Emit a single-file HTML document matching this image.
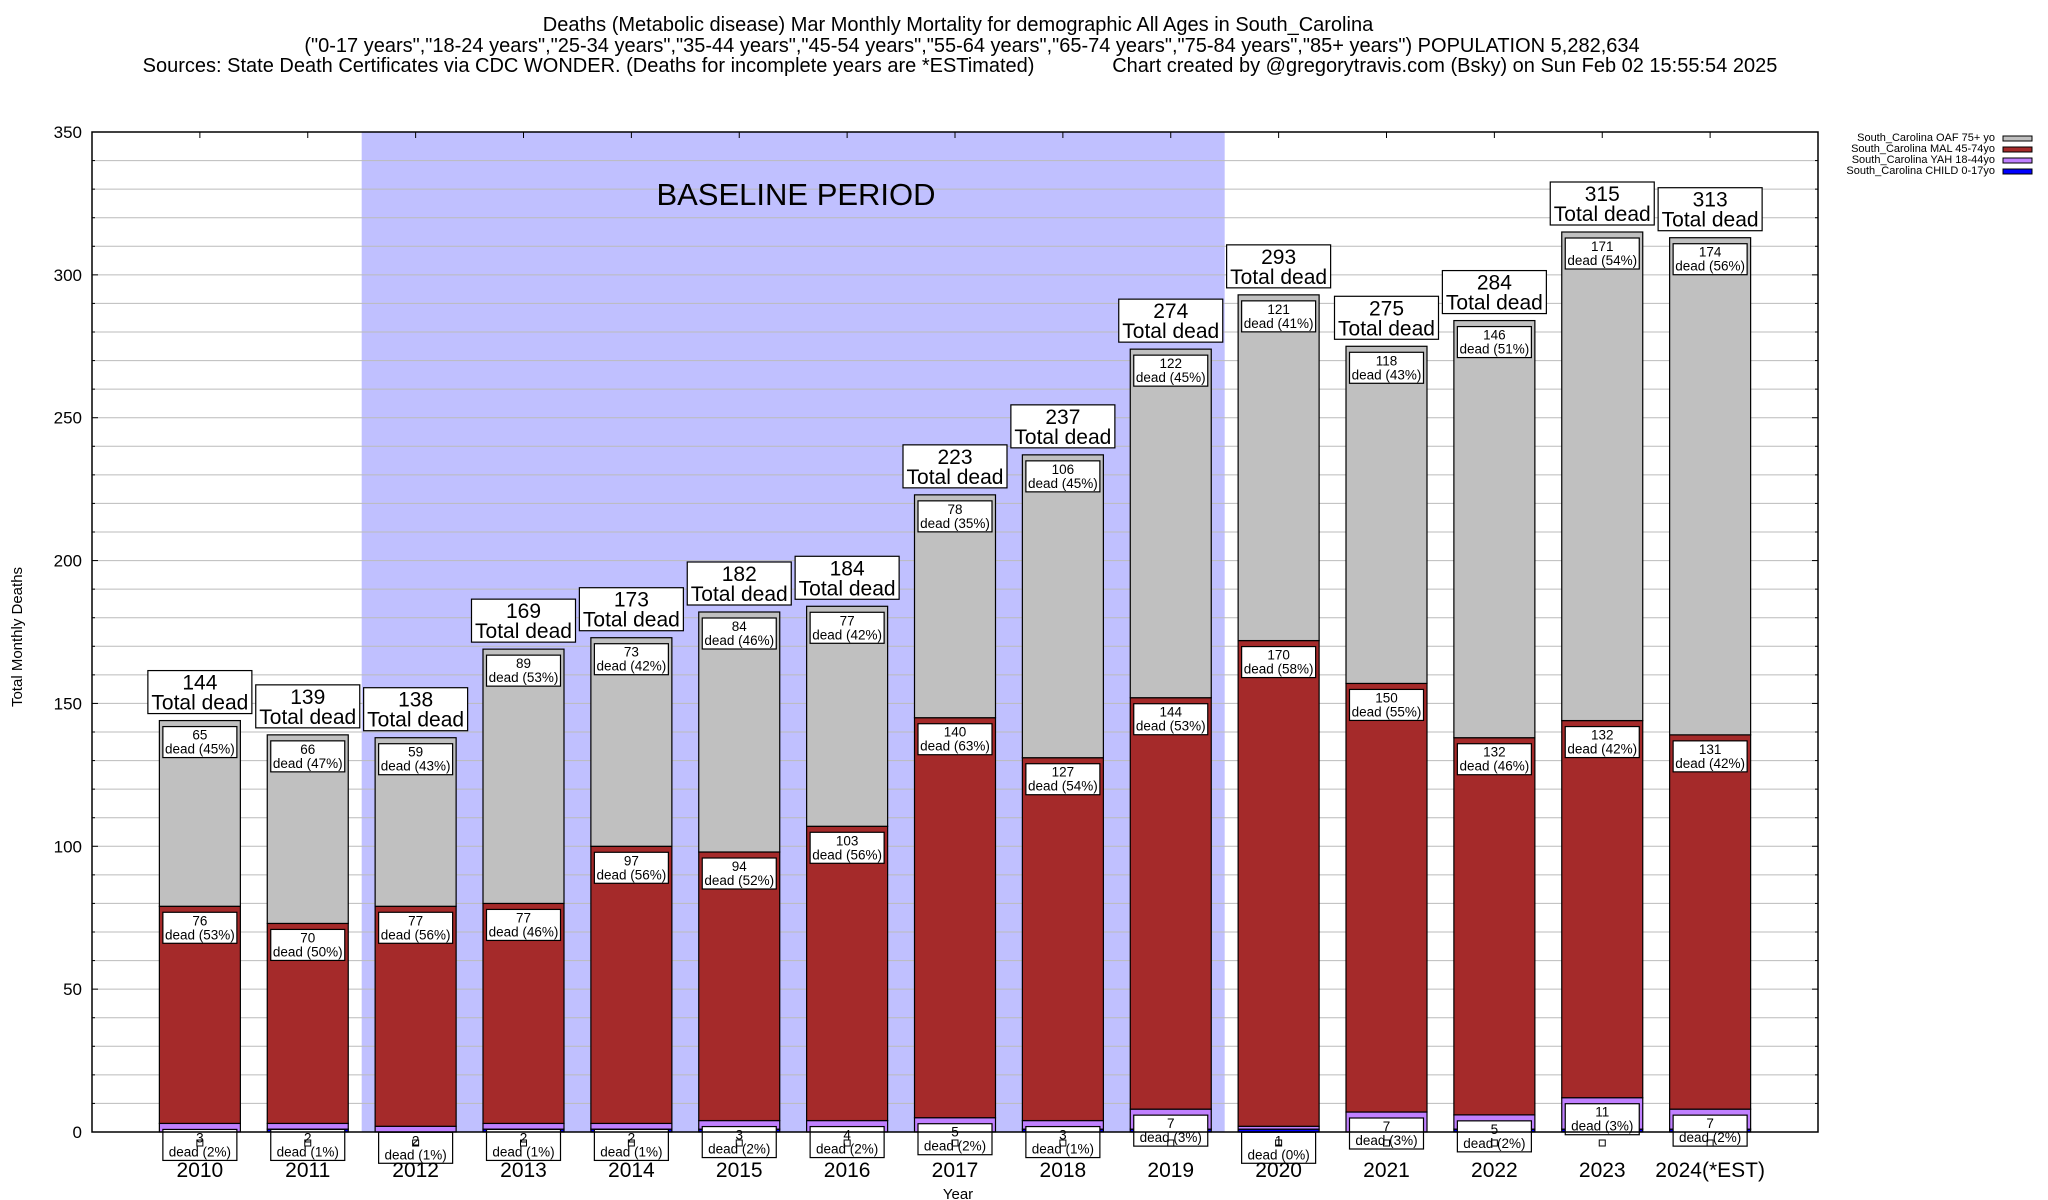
<!DOCTYPE html>
<html><head><meta charset="utf-8"><style>
body{margin:0;background:#fff}
svg{display:block;font-family:"Liberation Sans",sans-serif}
</style></head><body>
<svg id="chart" width="2048" height="1200" viewBox="0 0 2048 1200" xmlns="http://www.w3.org/2000/svg">
<g text-anchor="middle" font-size="20">
<text x="958" y="31">Deaths (Metabolic disease) Mar Monthly Mortality for demographic All Ages in South_Carolina</text>
<text x="972" y="52">("0-17 years","18-24 years","25-34 years","35-44 years","45-54 years","55-64 years","65-74 years","75-84 years","85+ years") POPULATION 5,282,634</text>
<text x="960" y="72" xml:space="preserve">Sources: State Death Certificates via CDC WONDER. (Deaths for incomplete years are *ESTimated)              Chart created by @gregorytravis.com (Bsky) on Sun Feb 02 15:55:54 2025</text>
</g>
<g id="plot"></g>
<text x="22" y="637" transform="rotate(-90 22 637)" text-anchor="middle" font-size="15">Total Monthly Deaths</text>
<text x="958" y="1199" text-anchor="middle" font-size="15">Year</text>
<g font-size="11" text-anchor="end">
<text x="1995" y="141">South_Carolina OAF 75+ yo</text>
<rect x="2003" y="136" width="29" height="5" fill="#c0c0c0" stroke="#000"/>
<text x="1995" y="152">South_Carolina MAL 45-74yo</text>
<rect x="2003" y="147" width="29" height="5" fill="#a52a2a" stroke="#000"/>
<text x="1995" y="163">South_Carolina YAH 18-44yo</text>
<rect x="2003" y="158" width="29" height="5" fill="#c080ff" stroke="#000"/>
<text x="1995" y="174">South_Carolina CHILD 0-17yo</text>
<rect x="2003" y="169" width="29" height="5" fill="#0000ff" stroke="#000"/>
</g>
</svg>
<script>
const years = ["2010","2011","2012","2013","2014","2015","2016","2017","2018","2019","2020","2021","2022","2023","2024(*EST)"];
const childVals = [0,1,0,1,1,1,0,0,1,1,1,0,1,1,1];
const yahVals = [3,2,2,2,2,3,4,5,3,7,1,7,5,11,7];
const malVals = [76,70,77,77,97,94,103,140,127,144,170,150,132,132,131];
const oafVals = [65,66,59,89,73,84,77,78,106,122,121,118,146,171,174];
const yTicks = [0,50,100,150,200,250,300,350];
const baselineStart = 2, baselineEnd = 9;

const NS = "http://www.w3.org/2000/svg";
const L = 92, R = 1818, T = 132, B = 1132, YMAX = 350;
const step = (R - L) / (years.length + 1);
const xS = i => L + (i + 1) * step;
const yS = v => B - v / YMAX * (B - T);
const plot = document.getElementById('plot');
function mk(tag, attrs, parent) {
  const e = document.createElementNS(NS, tag);
  for (const k in attrs) e.setAttribute(k, attrs[k]);
  (parent || plot).appendChild(e);
  return e;
}
let r = mk('rect', {x: xS(baselineStart) - step / 2, y: T, width: (baselineEnd - baselineStart + 1) * step, height: B - T, fill: '#c0c0ff'});


for (let v = 10; v < YMAX; v += 10) {
  const g = mk('line', {x1: L, x2: R, y1: yS(v), y2: yS(v), stroke: '#bbb', 'stroke-width': 1});
  
  
  const tl = mk('line', {x1: L, x2: L + (v % 50 ? 3 : 6), y1: yS(v), y2: yS(v), stroke: '#000'});
  
  
  const tr = mk('line', {x1: R, x2: R - (v % 50 ? 3 : 6), y1: yS(v), y2: yS(v), stroke: '#000'});
  
  
}
yTicks.forEach(v => {
  const t = mk('text', {x: L - 10, y: yS(v) + 6, 'text-anchor': 'end', 'font-size': 17});
  t.textContent = v;
  
  
});
let bt = mk('text', {x: 796, y: 205, 'text-anchor': 'middle', 'font-size': 31});
bt.textContent = 'BASELINE PERIOD';



const colors = ['#0000ff', '#c080ff', '#a52a2a', '#c0c0c0'];
const names = ['child', 'yah', 'mal', 'oaf'];
const bw = 81;
function smallLabel(cx, top, n, pct) {
  const g = mk('g', {});
  
  
  mk('rect', {x: cx - 37, y: top, width: 74, height: 31, fill: '#fff', stroke: '#000', 'stroke-width': 1.2}, g);
  const t1 = mk('text', {x: cx, y: top + 13, 'text-anchor': 'middle', 'font-size': 13.5}, g); t1.textContent = n;
  const t2 = mk('text', {x: cx, y: top + 27, 'text-anchor': 'middle', 'font-size': 13.5}, g); t2.textContent = 'dead (' + pct + '%)';
}
years.forEach((yr, i) => {
  const cx = xS(i);
  const vals = [childVals[i], yahVals[i], malVals[i], oafVals[i]];
  const total = vals.reduce((a, b) => a + b, 0);
  let acc = 0;
  vals.forEach((v, k) => {
    if (v <= 0) { return; }
    const s = mk('rect', {x: cx - bw / 2, y: yS(acc + v), width: bw, height: yS(acc) - yS(acc + v), fill: colors[k], stroke: '#000', 'stroke-width': 1.2});
    
    
    acc += v;
  });
  let a2 = childVals[i];
  [1, 2, 3].forEach(k => {
    const v = vals[k];
    a2 += v;
    smallLabel(cx, yS(a2) + 6, v, Math.round(v / total * 100));
  });
  const mkr = mk('rect', {x: cx - 3, y: 1140, width: 6, height: 6, fill: 'none', stroke: '#000', 'stroke-width': 1});
  
  
  const g = mk('g', {});
  
  
  const top = yS(total) - 7 - 43;
  mk('rect', {x: cx - 52, y: top, width: 104, height: 43, fill: '#fff', stroke: '#000', 'stroke-width': 1.2}, g);
  const t1 = mk('text', {x: cx, y: top + 19, 'text-anchor': 'middle', 'font-size': 21}, g); t1.textContent = total;
  const t2 = mk('text', {x: cx, y: top + 39, 'text-anchor': 'middle', 'font-size': 21}, g); t2.textContent = 'Total dead';
  const xl = mk('text', {x: cx, y: 1177, 'text-anchor': 'middle', 'font-size': 21});
  xl.textContent = yr;
  
  
  const tk = mk('line', {x1: cx, x2: cx, y1: T, y2: T + 6, stroke: '#000'});
  
  
});
const frame = mk('rect', {x: L, y: T, width: R - L, height: B - T, fill: 'none', stroke: '#000', 'stroke-width': 1.5});


</script>
</body></html>
